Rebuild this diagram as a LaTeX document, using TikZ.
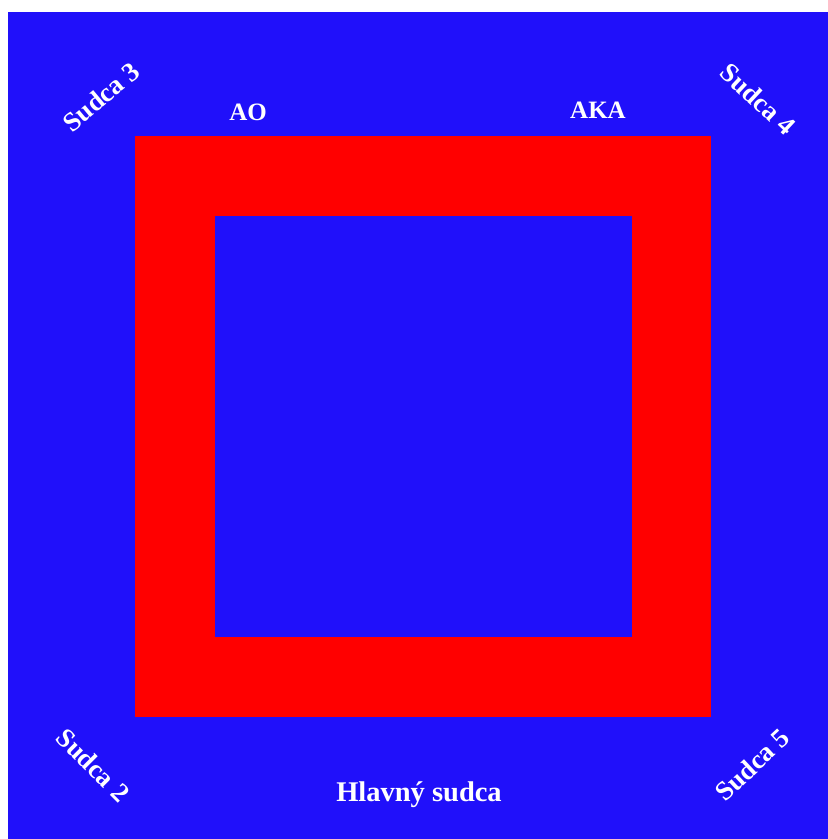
\documentclass[tikz,border=0pt]{standalone}
\usepackage{fontspec}
\setmainfont{Liberation Serif}
\definecolor{fieldblue}{RGB}{32,16,250}
\definecolor{matred}{RGB}{255,0,0}
\tikzset{
  lbl/.style={text=white, font=\bfseries\fontsize{25}{25}\selectfont, inner sep=0pt},
  cornerlbl/.style={text=white, font=\bfseries\fontsize{27}{27}\selectfont, inner sep=0pt},
  biglbl/.style={text=white, font=\bfseries\fontsize{28.5}{28.5}\selectfont, inner sep=0pt}
}
\begin{document}
\begin{tikzpicture}[x=1pt,y=-1pt]
\useasboundingbox (0,0) rectangle (828,839);
\fill[white] (0,0) rectangle (828,839);
\fill[fieldblue] (8,12) rectangle (828,839);
\fill[matred] (135,136) rectangle (711,717);
\fill[fieldblue] (215,216) rectangle (632,637);
\node[lbl] (ao) at (248,112) {AO};
\node[lbl] (aka) at (598,110) {AKA};
\node[biglbl] (hs) at (419,795) {Hlavný sudca};
\node[cornerlbl, rotate=40] (s3) at (101,97) {Sudca 3};
\node[cornerlbl, rotate=-43] (s4) at (758,99) {Sudca 4};
\node[cornerlbl, rotate=-45] (s2) at (93,765) {Sudca 2};
\node[cornerlbl, rotate=43] (s5) at (752,765) {Sudca 5};
\end{tikzpicture}
\end{document}
